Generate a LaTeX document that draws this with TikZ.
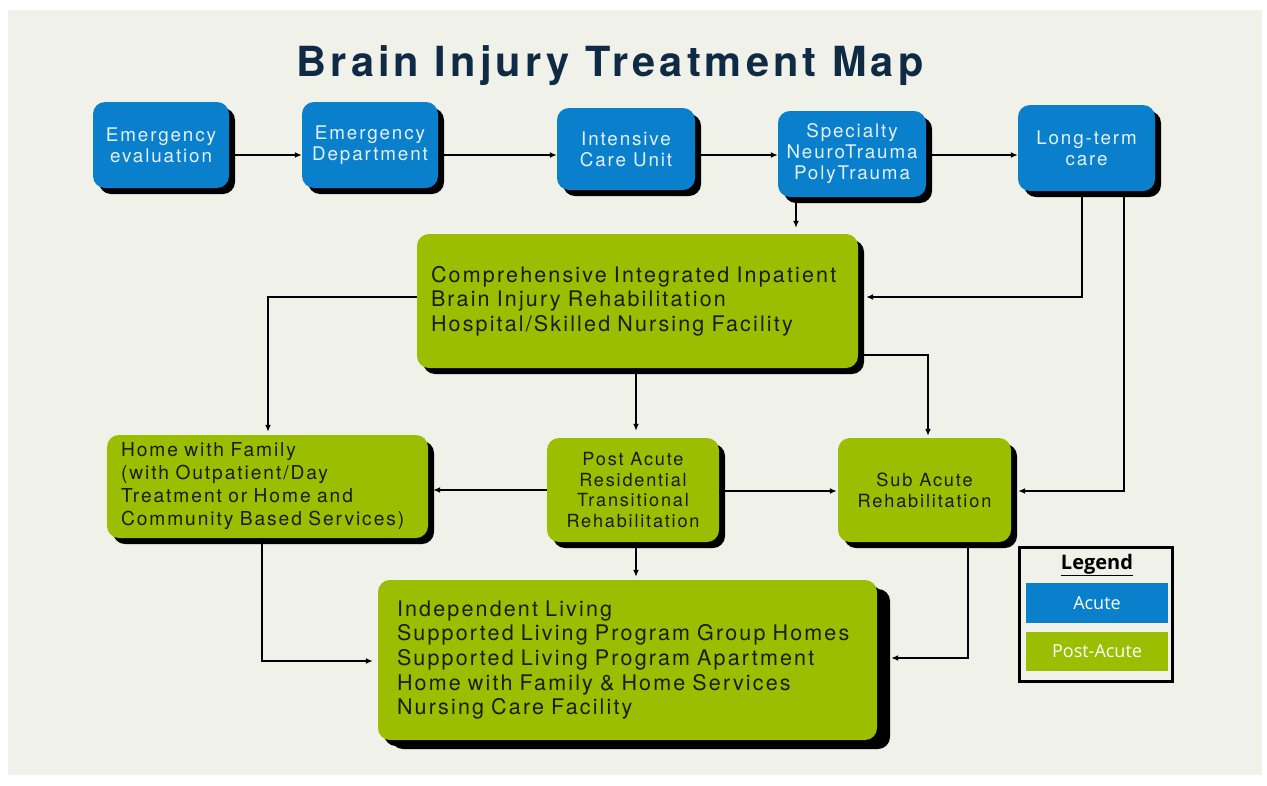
\documentclass[tikz,border=0pt]{standalone}
\usepackage{fontspec}
\setmainfont{TeX Gyre Heros}
\newfontfamily\boxfont[LetterSpace=10]{TeX Gyre Heros}
\newfontfamily\legfont{Open Sans}
\usetikzlibrary{arrows.meta,shadows}

\definecolor{bgpanel}{HTML}{F0F1E9}
\definecolor{acuteblue}{HTML}{0A80CC}
\definecolor{postgreen}{HTML}{9CBE00}
\definecolor{titlenavy}{HTML}{0F2A45}
\definecolor{paletext}{HTML}{E4F1FA}
\definecolor{darktext}{HTML}{1A1C0C}

\tikzset{
  basebox/.style={rounded corners=12pt, inner sep=0pt,
    drop shadow={shadow xshift=6pt, shadow yshift=-6pt, opacity=1, fill=black}},
  acutebox/.style={basebox, fill=acuteblue, text=paletext, align=center,
    font=\boxfont\fontsize{18.8}{21}\selectfont},
  postbox/.style={basebox, fill=postgreen, text=darktext,
    font=\boxfont\fontsize{18}{21}\selectfont},
  conn/.style={line width=1.6pt, -{Latex[length=7pt,width=6pt]}},
}

\begin{document}
\begin{tikzpicture}[x=1pt,y=-1pt]
\useasboundingbox (0,0) rectangle (1267,785);
\fill[white] (0,0) rectangle (1267,785);
\fill[bgpanel] (8,10) rectangle (1262,775);

% title
\node[font=\boxfont\fontsize{41.5}{48}\bfseries, text=titlenavy, anchor=base] (title) at (610,76) {Brain Injury Treatment Map};

% acute care row
\node[acutebox, minimum width=136pt, minimum height=86pt] (ee) at (161,145) {Emergency\\evaluation};
\node[acutebox, minimum width=136pt, minimum height=86pt] (ed) at (370,145) {Emergency\\Department};
\node[acutebox, minimum width=138pt, minimum height=82pt] (icu) at (626,149) {Intensive\\Care Unit};
\node[acutebox, minimum width=148pt, minimum height=86pt] (spec) at (852,154) {Specialty\\NeuroTrauma\\PolyTrauma};
\node[acutebox, minimum width=137pt, minimum height=86pt] (ltc) at (1086.5,148) {Long-term\\care};

% post-acute boxes
\node[postbox, minimum height=134pt, text width=413pt, inner xsep=14pt, align=left,
      font=\boxfont\fontsize{21.5}{24.5}\selectfont] (comp) at (637.5,301)
  {Comprehensive Integrated Inpatient\\Brain Injury Rehabilitation\\Hospital/Skilled Nursing Facility};
\node[postbox, minimum height=103pt, text width=293pt, inner xsep=14pt, align=left,
      font=\boxfont\fontsize{19.2}{23}\selectfont] (home) at (267.5,486.5)
  {Home with Family\\(with Outpatient/Day\\Treatment or Home and\\Community Based Services)};
\node[postbox, minimum width=172pt, minimum height=104pt, align=center,
      font=\boxfont\fontsize{18.1}{20.7}\selectfont] (pa) at (633,490)
  {Post Acute\\Residential\\Transitional\\Rehabilitation};
\node[postbox, minimum width=173pt, minimum height=104pt, align=center,
      font=\boxfont\fontsize{18.2}{21}\selectfont] (sa) at (924.5,490)
  {Sub Acute\\Rehabilitation};
\node[postbox, minimum height=160pt, text width=461pt, inner xsep=19pt, align=left,
      drop shadow={shadow xshift=13pt, shadow yshift=-9pt, opacity=1, fill=black},
      font=\boxfont\fontsize{21.5}{24.7}\selectfont] (bot) at (627.5,660)
  {Independent Living\\Supported Living Program Group Homes\\Supported Living Program Apartment\\Home with Family \& Home Services\\Nursing Care Facility};

% connectors along the acute row
\draw[conn] (ee.east |- 0,155) -- (ed.west |- 0,155);
\draw[conn] (ed.east |- 0,155) -- (icu.west |- 0,155);
\draw[conn] (icu.east |- 0,155) -- (spec.west |- 0,155);
\draw[conn] (spec.east |- 0,155) -- (ltc.west |- 0,155);

% acute to post-acute
\draw[conn, shorten >=6pt] (spec.south -| 796,0) -- (comp.north -| 796,0);
\draw[conn, shorten >=8pt] (ltc.south -| 1082,0) -- (1082,297) -- (comp.east |- 0,297);
\draw[conn, shorten >=7pt] (ltc.south -| 1124,0) -- (1124,491) -- (sa.east |- 0,491);

% from the inpatient rehabilitation box
\draw[conn, shorten >=3pt] (comp.west |- 0,297) -- (268,297) -- (home.north -| 268,0);
\draw[conn, shorten >=7pt] (comp.south -| 636,0) -- (pa.north -| 636,0);
\draw[conn, shorten >=2pt] (comp.east |- 0,355) -- (928,355) -- (sa.north -| 928,0);

% from the transitional rehabilitation box
\draw[conn, shorten >=5pt] (pa.west |- 0,490) -- (home.east |- 0,490);
\draw[conn, shorten >=1pt] (pa.east |- 0,491) -- (sa.west |- 0,491);
\draw[conn, shorten >=3pt] (pa.south -| 636,0) -- (bot.north -| 636,0);

% into the living arrangements box
\draw[conn, shorten >=5pt] (home.south -| 262,0) -- (262,661) -- (bot.west |- 0,661);
\draw[conn, shorten >=14pt] (sa.south -| 968,0) -- (968,658) -- (bot.east |- 0,658);

% legend
\node[draw, line width=3pt, minimum width=153pt, minimum height=134pt, inner sep=0pt] (legend) at (1095.5,614) {};
\node[font=\legfont\fontsize{20}{24}\bfseries, text=black] (legtitle) at (1097,565) {\underline{Legend}};
\node[fill=acuteblue, minimum width=142pt, minimum height=40pt, inner sep=0pt,
      text=white, font=\legfont\fontsize{18}{22}\selectfont] (legacute) at (1097,603) {Acute};
\node[fill=postgreen, minimum width=142pt, minimum height=39pt, inner sep=0pt,
      text=white, font=\legfont\fontsize{18}{22}\selectfont] (legpost) at (1097,651.5) {Post-Acute};
\end{tikzpicture}
\end{document}
